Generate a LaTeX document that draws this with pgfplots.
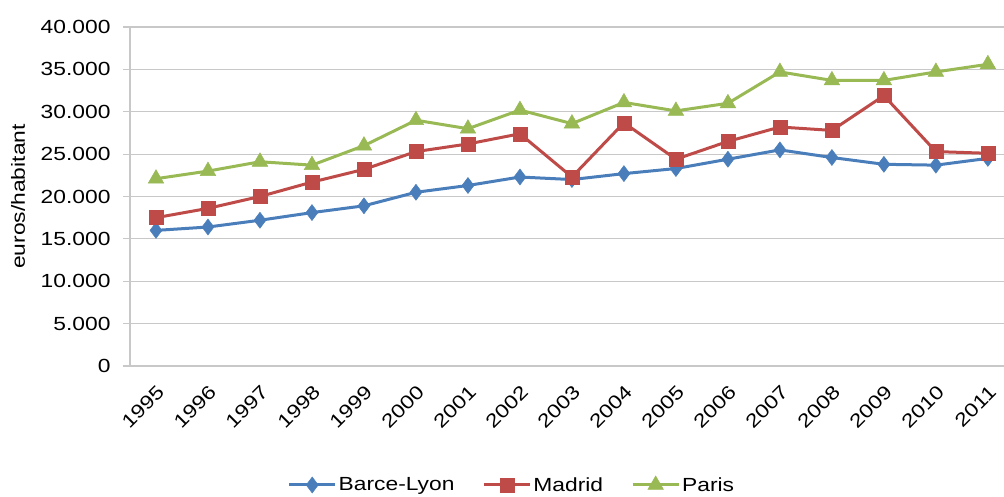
\documentclass[border=0pt]{standalone}
\usepackage{fontspec}
\setmainfont{Liberation Sans}[FakeStretch=1.2]
\usepackage{pgfplots}
\pgfplotsset{compat=1.18}
\definecolor{cblue}{HTML}{4A7EBB}
\definecolor{cred}{HTML}{BE4B48}
\definecolor{cgreen}{HTML}{98B954}
\definecolor{cgrid}{HTML}{C8C8C8}
\begin{document}
\begin{tikzpicture}
\useasboundingbox (-130pt,-130pt) rectangle (874pt,366pt);
\begin{axis}[
  scale only axis, width=874pt, height=339pt,
  xmin=-0.5, xmax=16.31, ymin=0, ymax=40000,
  scaled y ticks=false,
  axis x line*=bottom, axis y line*=left,
  axis line style={draw=cgrid, line width=1.2pt},
  font=\fontsize{19pt}{22pt}\selectfont,
  ytick={0,5000,...,40000},
  yticklabels={0,5.000,10.000,15.000,20.000,25.000,30.000,35.000,40.000},
  ymajorgrids, grid style={draw=cgrid, line width=1.2pt},
  tick align=outside, major tick length=7pt, minor tick length=7pt,
  tick style={draw=cgrid, line width=1.2pt},
  xtick={0,...,16},
  xticklabels={1995,1996,1997,1998,1999,2000,2001,2002,2003,2004,2005,2006,2007,2008,2009,2010,2011},
  xtick style={draw=none},
  minor xtick={-0.5,0.5,...,15.5},
  minor tick style={draw=cgrid, line width=1.2pt},
  xticklabel style={xshift=0pt, yshift=-6pt, rotate=45, anchor=north east},
  yticklabel style={xshift=-9pt},
  ylabel={euros/habitant},
  ylabel style={at={(axis description cs:-0.128,0.5)}, anchor=center},
  legend columns=3,
  legend style={at={(axis description cs:0.437,-0.351)}, anchor=center, draw=none,
    font=\fontsize{19pt}{22pt}\selectfont,
    /tikz/every even column/.append style={column sep=26pt}},
  legend image code/.code={\draw[mark repeat=2,mark phase=2] plot coordinates {(0pt,0pt)(23pt,0pt)(46pt,0pt)};},
  clip=false,
]
\addplot[cblue, line width=3pt, mark=diamond*, mark size=8pt, mark options={solid, line width=0.5pt}] coordinates {
(0,16000)(1,16400)(2,17200)(3,18100)(4,18900)(5,20500)(6,21300)(7,22300)(8,22000)(9,22700)(10,23300)(11,24400)(12,25500)(13,24600)(14,23800)(15,23700)(16,24500)};
\addlegendentry{Barce-Lyon}
\addplot[cred, line width=3pt, mark=square*, mark size=7pt, mark options={solid, line width=0.5pt}] coordinates {
(0,17500)(1,18600)(2,20000)(3,21700)(4,23200)(5,25300)(6,26200)(7,27400)(8,22300)(9,28700)(10,24400)(11,26500)(12,28200)(13,27800)(14,31900)(15,25300)(16,25100)};
\addlegendentry{Madrid}
\addplot[cgreen, line width=3pt, mark=triangle*, mark size=9pt, mark options={solid, line width=0.5pt}] coordinates {
(0,22100)(1,23000)(2,24100)(3,23700)(4,26000)(5,29000)(6,28000)(7,30200)(8,28600)(9,31100)(10,30100)(11,31000)(12,34700)(13,33700)(14,33700)(15,34700)(16,35600)};
\addlegendentry{Paris}
\end{axis}
\end{tikzpicture}
\end{document}
